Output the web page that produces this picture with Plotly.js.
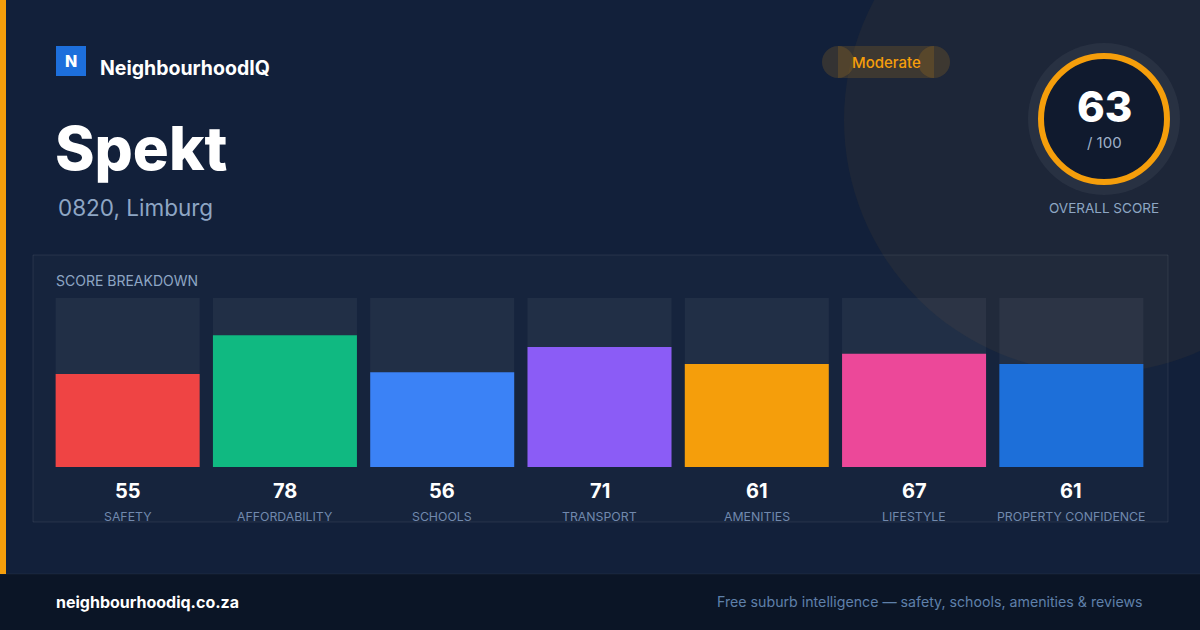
<!DOCTYPE html>
<html>
<head>
<meta charset="utf-8">
<script src="https://cdn.plot.ly/plotly-3.0.1.min.js"></script>
<style>html,body{margin:0;padding:0;background:#12203a;}#chart{width:1200px;height:630px;}</style>
</head>
<body>
<div id="chart"></div>
<script>
// ---- data ----
var categories = ["SAFETY", "AFFORDABILITY", "SCHOOLS", "TRANSPORT", "AMENITIES", "LIFESTYLE", "PROPERTY CONFIDENCE"];
var scores = [55, 78, 56, 71, 61, 67, 61];
var barColors = ["#ef4444", "#10b981", "#3b82f6", "#8b5cf6", "#f59e0b", "#ec4899", "#1d6fd9"];
var maxScore = [100, 100, 100, 100, 100, 100, 100];
var overallScore = 63;
var place = "Spekt";
var region = "0820, Limburg";
var rating = "Moderate";

// ---- layout geometry (pixels) ----
var W = 1200, H = 630;
var mL = 49, mR = 50, mT = 298, mB = 163;
var PW = W - mL - mR, PH = H - mT - mB;
function px(x) { return (x - mL) / PW; }
function py(y) { return (H - mB - y) / PH; }

var FONT = "Inter, 'Noto Sans', sans-serif";

var shapes = [];
function rect(x0, y0, x1, y1, fill, line, layer) {
  shapes.push({type: "rect", xref: "paper", yref: "paper", x0: px(x0), x1: px(x1), y0: py(y1), y1: py(y0),
    fillcolor: fill, line: line || {width: 0}, layer: layer || "below"});
}
function circ(cx, cy, r, fill, line, layer) {
  shapes.push({type: "circle", xref: "paper", yref: "paper", x0: px(cx - r), x1: px(cx + r), y0: py(cy + r), y1: py(cy - r),
    fillcolor: fill, line: line || {width: 0}, layer: layer || "below"});
}

// decorative circle
circ(1097, 120, 253, "rgba(245,158,11,0.05)");
// left stripe
rect(0, 0, 6, 574, "#f59e0b");
// footer
rect(0, 574, 1200, 630, "#0b1526");
shapes.push({type: "line", xref: "paper", yref: "paper", x0: px(0), x1: px(1200), y0: py(574), y1: py(574),
  line: {color: "rgba(255,255,255,0.05)", width: 1}, layer: "below"});
// panel
rect(33, 255, 1168, 522, "rgba(255,255,255,0.02)", {color: "rgba(255,255,255,0.08)", width: 1});
// logo
rect(56, 46, 86, 76, "#1d6fdc");
// moderate pill
circ(838, 62, 16, "rgba(245,158,11,0.15)");
circ(934, 62, 16, "rgba(245,158,11,0.15)");
rect(838, 46, 934, 78, "rgba(245,158,11,0.15)");
// score ring
circ(1104, 119, 76, "rgba(255,255,255,0.05)");
circ(1104, 119, 63, "#101a2e", {color: "#f59e0b", width: 6});

var annotations = [];
function txt(x, y, text, size, color, anchor, weight) {
  annotations.push({xref: "paper", yref: "paper", x: px(x), y: py(y), text: text, showarrow: false,
    xanchor: anchor || "left", yanchor: "middle", borderpad: 0,
    font: {family: FONT, size: size, color: color, weight: weight || 400}});
}
txt(71, 61, "N", 16, "#ffffff", "center", 800);
txt(99, 68, "NeighbourhoodIQ", 19.5, "#ffffff", "left", 700);
txt(54, 148, place, 60, "#ffffff", "left", 800);
txt(57, 207, region, 22.5, "#8ea6c4", "left", 400);
txt(886, 62, rating, 15, "#f59e0b", "center", 500);
txt(1104, 106, String(overallScore), 42, "#ffffff", "center", 800);
txt(1104, 142, "/ 100", 15, "#9fb1c9", "center", 400);
txt(1104, 208, "OVERALL SCORE", 13.5, "#8ea6c4", "center", 400);
txt(55, 280, "SCORE BREAKDOWN", 14, "#8ea6c4", "left", 400);
txt(55, 602, "neighbourhoodiq.co.za", 16, "#ffffff", "left", 700);
txt(1144, 602, "Free suburb intelligence \u2014 safety, schools, amenities &amp; reviews", 14.2, "#5f80aa", "right", 400);

// value and category labels under each bar
categories.forEach(function (c, i) {
  annotations.push({xref: "x", yref: "paper", x: c, y: py(491), text: String(scores[i]), showarrow: false,
    xanchor: "center", yanchor: "middle", font: {family: FONT, size: 20, color: "#ffffff", weight: 700}});
  annotations.push({xref: "x", yref: "paper", x: c, y: py(516), text: c, showarrow: false,
    xanchor: "center", yanchor: "middle", font: {family: FONT, size: 12.3, color: "#7189ad", weight: 400}});
});

var traces = [
  {type: "bar", x: categories, y: maxScore, marker: {color: "rgba(255,255,255,0.05)", line: {width: 0}},
    hoverinfo: "skip", showlegend: false},
  {type: "bar", x: categories, y: scores, marker: {color: barColors, line: {width: 0}},
    showlegend: false, hovertemplate: "%{x}: %{y}<extra></extra>"}
];

var layout = {
  width: W, height: H,
  margin: {l: mL, r: mR, t: mT, b: mB, pad: 0},
  paper_bgcolor: "#12203a",
  plot_bgcolor: "rgba(0,0,0,0)",
  barmode: "overlay",
  bargap: 0.0845,
  showlegend: false,
  xaxis: {type: "category", showticklabels: false, showgrid: false, zeroline: false, showline: false,
    ticks: "", range: [-0.5, 6.5], fixedrange: true},
  yaxis: {range: [0, 100], showticklabels: false, showgrid: false, zeroline: false, showline: false,
    ticks: "", fixedrange: true},
  shapes: shapes,
  annotations: annotations,
  font: {family: FONT}
};

Plotly.newPlot("chart", traces, layout, {displayModeBar: false, staticPlot: true});
</script>
</body>
</html>
